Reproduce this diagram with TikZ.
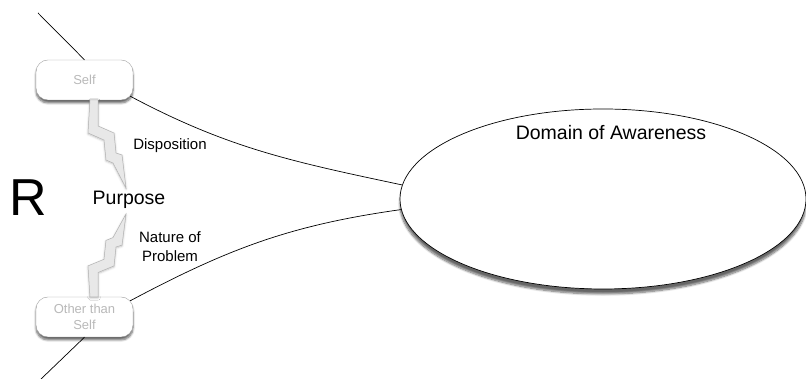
\documentclass[tikz,border=0pt]{standalone}
\usepackage{fontspec}
\setmainfont{Liberation Sans}
\usetikzlibrary{shapes.geometric,shadows.blur}

\begin{document}
\begin{tikzpicture}[x=1pt,y=1pt,
    pill/.style={draw=gray!75, fill=white, rounded corners=12pt,
        minimum width=97pt, minimum height=40pt, align=center,
        text=gray!55, font=\fontsize{13}{16}\selectfont,
        blur shadow={shadow xshift=0pt, shadow yshift=-3pt, shadow opacity=60, shadow blur steps=6}},
    bolt/.style={draw=gray!60, fill=gray!18, line width=0.5pt,
        blur shadow={shadow xshift=0pt, shadow yshift=-1pt, shadow opacity=25, shadow blur steps=4}},
    tie/.style={line width=0.7pt}]
        \useasboundingbox (0,0) rectangle (806,379);

        % domain
        \node[ellipse, draw, fill=white, line width=0.7pt, minimum width=406pt, minimum height=180pt,
            blur shadow={shadow xshift=0pt, shadow yshift=-5pt, shadow opacity=60, shadow blur steps=8}] (dom) at (603,180) {};
        \node[font=\fontsize{19.5}{22}\selectfont] (domlbl) at (611,246) {Domain of Awareness};

        % the two poles
        \node[pill] (self) at (84.5,299) {Self};
        \node[pill] (other) at (84.5,62) {Other than\\Self};

        \node[font=\fontsize{52}{56}\selectfont] (r) at (28,181) {R};
        \node[font=\fontsize{19.5}{22}\selectfont] (purpose) at (129,179) {Purpose};

        % bolts
        \draw[bolt] (90,279) -- (88,246) -- (104,239) -- (106,219) -- (113,216) -- (126,191)
            -- (122,224) -- (116,226) -- (114,246) -- (98,253) -- (98,279) -- cycle;
        \draw[bolt] (90,82) -- (88,113.1) -- (104,119.7) -- (106,138.6) -- (113,141.4) -- (126,165)
            -- (122,133.9) -- (116,132) -- (114,113.1) -- (98,106.5) -- (98,82) -- cycle;

        \node[font=\fontsize{15}{17}\selectfont] (dispo) at (170,233) {Disposition};
        \node[font=\fontsize{15}{19}\selectfont, align=center] (nature) at (170,132) {Nature of\\Problem};

        % connectors
        \coordinate (topend) at (38,366);
        \coordinate (botend) at (40,-1);
        \draw[tie] (topend) -- (self.north);
        \draw[tie] (other.south) -- (botend);
        \draw[tie] ([xshift=-3pt,yshift=4pt]self.south east) to[out=-28, in=168] (dom.176);
        \draw[tie] ([xshift=-3pt,yshift=-4pt]other.north east) to[out=28, in=188] (dom.183);
    \end{tikzpicture}
\end{document}
